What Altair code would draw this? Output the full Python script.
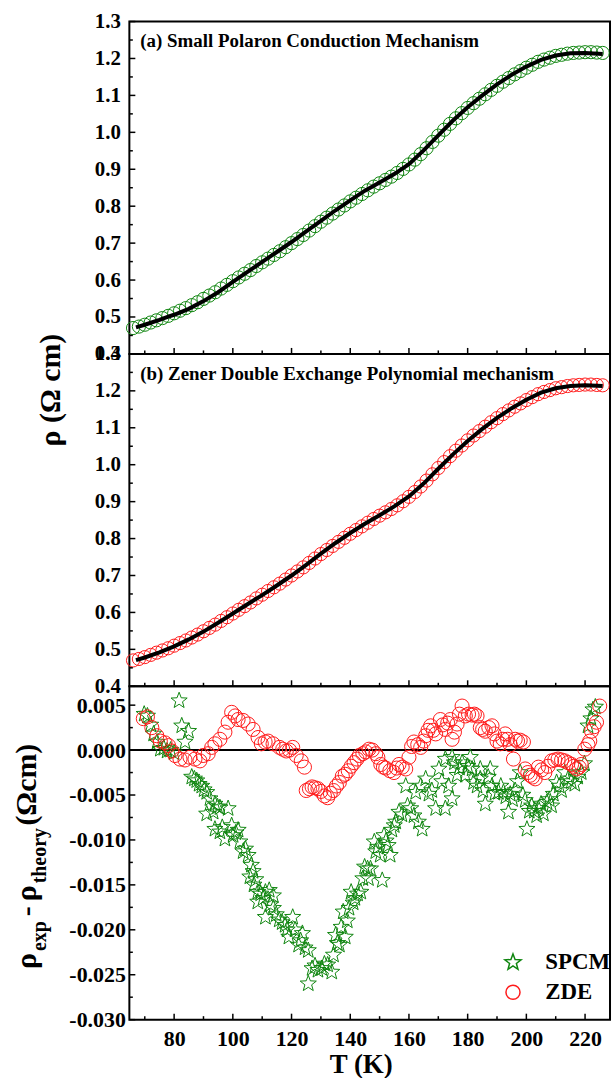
import altair as alt
import pandas as pd

GREEN = "#0f850f"
RED = "#ff1a1a"
FONT = "Liberation Serif"

# ---------------- data ----------------
T_exp = [66, 68, 70, 72, 74, 76, 78, 80, 82, 84, 86, 88, 90, 92, 94, 96, 98, 100,
         102, 104, 106, 108, 110, 112, 114, 116, 118, 120, 122, 124, 126, 128, 130,
         132, 134, 136, 138, 140, 142, 144, 146, 148, 150, 152, 154, 156, 158, 160,
         162, 164, 166, 168, 170, 172, 174, 176, 178, 180, 182, 184, 186, 188, 190,
         192, 194, 196, 198, 200, 202, 204, 206, 208, 210, 212, 214, 216, 218, 220,
         222, 224, 226]
rho_exp = [0.470, 0.474, 0.479, 0.485, 0.491, 0.497, 0.503, 0.510, 0.517, 0.524,
           0.532, 0.540, 0.549, 0.558, 0.567, 0.577, 0.587, 0.597, 0.607, 0.617,
           0.627, 0.638, 0.648, 0.658, 0.668, 0.678, 0.689, 0.700, 0.711, 0.722,
           0.734, 0.746, 0.758, 0.769, 0.780, 0.791, 0.802, 0.813, 0.823, 0.833,
           0.843, 0.853, 0.862, 0.871, 0.880, 0.890, 0.901, 0.913, 0.926, 0.941,
           0.957, 0.974, 0.991, 1.007, 1.023, 1.038, 1.052, 1.066, 1.079, 1.091,
           1.103, 1.115, 1.126, 1.137, 1.147, 1.157, 1.166, 1.175, 1.183, 1.191,
           1.197, 1.202, 1.207, 1.210, 1.213, 1.215, 1.216, 1.217, 1.217, 1.216, 1.215]

T_fit_a = [67, 70, 75, 78, 80, 85, 90, 95, 100, 105, 110, 115, 120, 125, 130, 135,
           140, 145, 150, 155, 160, 165, 170, 175, 180, 185, 190, 195, 200,
           205, 210, 215, 220, 226]
rho_fit_a = [0.472, 0.479, 0.492, 0.501, 0.506, 0.522, 0.543, 0.567, 0.595, 0.622,
             0.649, 0.676, 0.703, 0.732, 0.760, 0.789, 0.816, 0.842, 0.864, 0.887,
             0.914, 0.951, 0.992, 1.032, 1.068, 1.100, 1.130, 1.156, 1.178,
             1.196, 1.208, 1.214, 1.215, 1.212]

T_fit_b = [67, 70, 75, 80, 85, 90, 95, 100, 105, 110, 115, 120, 125, 130, 135, 140,
           145, 150, 155, 160, 165, 170, 175, 180, 185, 190, 195, 200, 205, 210,
           215, 220, 226]
rho_fit_b = [0.471, 0.478, 0.492, 0.508, 0.527, 0.548, 0.572, 0.597, 0.622, 0.647,
             0.673, 0.700, 0.729, 0.759, 0.788, 0.815, 0.840, 0.863, 0.887, 0.914,
             0.949, 0.989, 1.028, 1.064, 1.097, 1.127, 1.153, 1.176, 1.195, 1.207,
             1.213, 1.215, 1.213]

T_res_spcm = [69.8, 70.9, 72.0, 73.0, 74.2, 75.3, 76.5, 77.6, 78.8, 80.0, 81.7, 82.6,
              83.7, 84.9, 86.0, 86.9, 87.7, 88.5, 89.4, 90.2, 91.1, 91.1, 92.2, 93.3,
              93.9, 93.9, 94.8, 95.6, 95.6, 96.4, 97.3, 98.4, 99.6, 100.1, 101.0,
              101.8, 102.4, 103.5, 104.3, 105.2, 105.8, 106.3, 106.9, 107.2, 107.8,
              108.5, 108.5, 109.5, 110.3, 111.1, 111.1, 112.4, 112.8, 113.8, 113.8,
              114.8, 115.8, 116.8, 117.8, 118.5, 119.1, 120.4, 121.2, 122.4, 123.1,
              123.7, 124.6, 125.7, 125.7, 127.0, 128.0, 129.0, 130.3, 131.2, 132.3,
              133.7, 134.3, 135.0, 135.6, 136.3, 136.9, 137.6, 138.3, 139.0, 139.6,
              140.3, 141.0, 141.6, 142.5, 143.6, 144.3, 144.9, 145.9, 146.2, 146.9,
              148.2, 148.7, 149.4, 150.2, 150.9, 151.5, 152.2, 152.9, 153.6, 154.2,
              155.0, 155.5, 156.6, 157.6, 158.9, 159.5, 160.6, 161.7, 162.3, 163.2,
              164.0, 164.5, 165.7, 166.8, 167.8, 169.1, 170.2, 171.2, 172.4, 172.4,
              173.5, 174.7, 174.7, 175.5, 176.4, 177.2, 178.1, 179.2, 180.0, 180.9,
              181.5, 182.0, 183.2, 184.3, 184.3, 185.2, 186.0, 187.0, 187.7, 188.3,
              189.3, 190.5, 191.3, 192.2, 193.0, 193.9, 194.5, 195.3, 196.2, 197.0,
              197.9, 198.8, 199.6, 200.2, 201.0, 201.8, 202.7, 203.5, 204.1, 205.0,
              205.8, 207.0, 207.8, 208.6, 209.2, 210.3, 211.2, 212.0, 213.1, 214.2,
              215.3, 216.5, 217.5, 218.7, 219.8, 221.0, 222.0, 222.7, 223.5]
res_spcm = [0.0040, 0.0038, 0.0028, 0.0018, 0.0009, 0.0001, 0.0002, -0.0001, 0.0000,
            -0.0003, 0.0055, 0.0027, 0.0009, 0.0021, -0.0030, -0.0032, -0.0034,
            -0.0038, -0.0040, -0.0044, -0.0047, -0.0071, -0.0054, -0.0069, -0.0060,
            -0.0088, -0.0063, -0.0064, -0.0091, -0.0086, -0.0099, -0.0065, -0.0084,
            -0.0095, -0.0092, -0.0089, -0.0102, -0.0113, -0.0110, -0.0117, -0.0141,
            -0.0128, -0.0135, -0.0150, -0.0144, -0.0158, -0.0169, -0.0160, -0.0165,
            -0.0158, -0.0186, -0.0156, -0.0172, -0.0162, -0.0176, -0.0183, -0.0189,
            -0.0192, -0.0195, -0.0200, -0.0208, -0.0186, -0.0200, -0.0217, -0.0212,
            -0.0204, -0.0220, -0.0223, -0.0260, -0.0243, -0.0240, -0.0245, -0.0243,
            -0.0238, -0.0239, -0.0247, -0.0228, -0.0206, -0.0215, -0.0217, -0.0197,
            -0.0180, -0.0208, -0.0190, -0.0176, -0.0158, -0.0170, -0.0165, -0.0160,
            -0.0158, -0.0143, -0.0130, -0.0132, -0.0143, -0.0132, -0.0102, -0.0113,
            -0.0108, -0.0117, -0.0145, -0.0095, -0.0101, -0.0106, -0.0117, -0.0089,
            -0.0084, -0.0080, -0.0069, -0.0072, -0.0040, -0.0062, -0.0065, -0.0073,
            -0.0047, -0.0080, -0.0040, -0.0088, -0.0032, -0.0049, -0.0045, -0.0065,
            -0.0021, -0.0035, -0.0065, -0.0010, -0.0040, -0.0054, -0.0008, -0.0014,
            -0.0028, -0.0020, -0.0014, -0.0028, -0.0018, -0.0008, -0.0021, -0.0036,
            -0.0040, -0.0032, -0.0021, -0.0045, -0.0060, -0.0030, -0.0021, -0.0040,
            -0.0048, -0.0047, -0.0040, -0.0047, -0.0052, -0.0069, -0.0049, -0.0055,
            -0.0045, -0.0035, -0.0025, -0.0050, -0.0056, -0.0088, -0.0068, -0.0062,
            -0.0068, -0.0073, -0.0065, -0.0060, -0.0071, -0.0058, -0.0055, -0.0062,
            -0.0049, -0.0036, -0.0040, -0.0045, -0.0025, -0.0032, -0.0035, -0.0038,
            -0.0030, -0.0025, -0.0015, 0.0027, 0.0035, 0.0045, 0.0048]

T_res_zde = [69.5, 70.9, 72.4, 74.1, 75.3, 76.9, 78.1, 79.2, 80.3, 82.0, 83.7, 85.4,
             87.1, 88.8, 89.9, 91.6, 92.8, 93.9, 95.6, 97.3, 98.4, 99.6, 100.8, 101.8,
             103.5, 105.2, 106.9, 108.6, 109.7, 111.0, 112.0, 113.7, 115.9, 117.0,
             118.2, 119.3, 120.4, 121.6, 123.3, 124.4, 125.0, 126.1, 127.0, 128.0,
             129.0, 130.0, 131.2, 132.3, 133.2, 134.3, 135.3, 136.3, 137.3, 138.3,
             139.3, 140.3, 141.3, 142.3, 143.1, 144.3, 145.3, 146.4, 147.5, 148.7,
             149.4, 150.4, 151.3, 152.1, 153.5, 154.9, 155.8, 156.6, 157.7, 158.9,
             160.0, 160.9, 161.7, 163.0, 164.0, 165.0, 165.7, 166.5, 167.4, 168.3,
             169.1, 170.7, 171.5, 172.4, 173.2, 174.1, 174.7, 175.5, 176.4, 177.2,
             178.1, 179.2, 180.3, 181.5, 182.3, 183.2, 184.3, 185.1, 186.0, 187.2,
             188.3, 189.1, 190.0, 191.1, 192.0, 192.8, 193.6, 194.5, 195.6, 196.2,
             197.0, 197.9, 199.0, 199.6, 200.5, 201.3, 202.1, 203.0, 204.1, 205.2,
             206.3, 207.4, 208.6, 209.7, 210.8, 212.0, 213.1, 214.2, 215.4, 216.2,
             217.1, 218.0, 218.7, 219.9, 221.0, 221.6, 222.2, 223.1, 223.9, 225.0]
res_zde = [0.0035, 0.0037, 0.0025, 0.0016, 0.0010, 0.0008, 0.0005, -0.0001, -0.0006,
           -0.0010, -0.0011, -0.0008, -0.0010, -0.0012, -0.0006, -0.0004, 0.0003,
           0.0007, 0.0012, 0.0020, 0.0031, 0.0042, 0.0038, 0.0034, 0.0033, 0.0029,
           0.0023, 0.0014, 0.0007, 0.0009, 0.0010, 0.0007, 0.0003, 0.0001, -0.0001,
           0.0000, 0.0003, -0.0006, -0.0012, -0.0019, -0.0045, -0.0043, -0.0041,
           -0.0042, -0.0043, -0.0046, -0.0051, -0.0053, -0.0048, -0.0045, -0.0040,
           -0.0036, -0.0029, -0.0027, -0.0023, -0.0018, -0.0014, -0.0010, -0.0006,
           -0.0004, -0.0002, 0.0001, 0.0000, -0.0004, -0.0008, -0.0016, -0.0019,
           -0.0020, -0.0023, -0.0025, -0.0020, -0.0016, -0.0019, -0.0021, -0.0008,
           0.0004, 0.0009, 0.0006, 0.0003, 0.0010, 0.0016, 0.0022, 0.0027, 0.0022,
           0.0018, 0.0034, 0.0028, 0.0023, 0.0030, 0.0034, 0.0012, 0.0020, 0.0029,
           0.0040, 0.0049, 0.0038, 0.0040, 0.0039, 0.0040, 0.0038, 0.0025, 0.0023,
           0.0021, 0.0025, 0.0027, 0.0018, 0.0010, 0.0007, 0.0012, 0.0018, 0.0012,
           0.0006, -0.0010, 0.0012, 0.0010, 0.0011, 0.0009, -0.0021, -0.0025,
           -0.0028, -0.0030, -0.0032, -0.0019, -0.0022, -0.0025, -0.0018, -0.0012,
           -0.0011, -0.0010, -0.0011, -0.0012, -0.0014, -0.0016, -0.0018, -0.0021,
           -0.0019, -0.0016, 0.0001, 0.0006, 0.0010, 0.0021, 0.0026, 0.0031, 0.0049]

x_major = [80, 100, 120, 140, 160, 180, 200, 220]
x_minor = [70, 90, 110, 130, 150, 170, 190, 210]
rho_major = [0.4, 0.5, 0.6, 0.7, 0.8, 0.9, 1.0, 1.1, 1.2, 1.3]
rho_minor = [0.45, 0.55, 0.65, 0.75, 0.85, 0.95, 1.05, 1.15, 1.25]
res_major = [-0.030, -0.025, -0.020, -0.015, -0.010, -0.005, 0.000, 0.005]
res_minor = [-0.0275, -0.0225, -0.0175, -0.0125, -0.0075, -0.0025, 0.0025]

label_a = "(a) Small Polaron Conduction Mechanism"
label_b = "(b) Zener Double Exchange Polynomial mechanism"
models = ["SPCM", "ZDE"]

STAR = ("M0,-1L0.247,-0.34L0.951,-0.309L0.399,0.13L0.588,0.809L0,0.42"
        "L-0.588,0.809L-0.399,0.13L-0.951,-0.309L-0.247,-0.34Z")

# ---------------- geometry ----------------
W = 483
H = 334
HC = 335

x_scale = alt.Scale(domain=[64.75, 228.5], nice=False, zero=False)
rho_scale = alt.Scale(domain=[0.4, 1.3], nice=False, zero=False)
res_scale = alt.Scale(domain=[-0.030, 0.0071], nice=False, zero=False)

lab = dict(labelFont=FONT, labelFontWeight="bold",
           labelColor="black", ticks=False, tickSize=0, domain=False,
           grid=False, title=None)
rho_axis = alt.Axis(values=rho_major, format=".1f", labelPadding=9,
                    labelFontSize=21, **lab)
res_axis = alt.Axis(values=res_major, labelPadding=4, labelFontSize=22,
                    labelExpr="replace(format(datum.value, '.3f'), '\u2212', '-')",
                    **lab)
x_axis_c = alt.Axis(values=x_major, format="d", labelPadding=9,
                    labelFontSize=22, **lab)

df_exp = pd.DataFrame({"T": T_exp, "rho": rho_exp})
df_fa = pd.DataFrame({"T": T_fit_a, "rho": rho_fit_a})
df_fb = pd.DataFrame({"T": T_fit_b, "rho": rho_fit_b})
df_res = pd.concat([
    pd.DataFrame({"T": T_res_spcm, "res": res_spcm, "model": models[0]}),
    pd.DataFrame({"T": T_res_zde, "res": res_zde, "model": models[1]}),
])


def ticks_layers(xaxis, yfield, yscale, yaxis, ymaj, ymin, h):
    X = alt.X("T:Q", scale=x_scale, axis=xaxis)
    Y = alt.Y(f"{yfield}:Q", scale=yscale, axis=yaxis)
    out = []
    for vals, ln in ((x_major, 6), (x_minor, 3.5)):
        out.append(alt.Chart(pd.DataFrame({"T": vals})).mark_rule(
            color="black", strokeWidth=1.5).encode(
            x=X, y=alt.value(h), y2=alt.value(h - ln)))
    for vals, ln in ((ymaj, 6), (ymin, 3.5)):
        out.append(alt.Chart(pd.DataFrame({yfield: vals})).mark_rule(
            color="black", strokeWidth=1.5).encode(
            y=Y, x=alt.value(0), x2=alt.value(ln)))
    return out


def rho_panel(color, fit_df, label, extra):
    X = alt.X("T:Q", scale=x_scale, axis=None)
    Y = alt.Y("rho:Q", scale=rho_scale, axis=rho_axis)
    pts = alt.Chart(df_exp).mark_point(
        shape="circle", filled=False, size=175, strokeWidth=1.0,
        color=color, opacity=1).encode(x=X, y=Y)
    line = alt.Chart(fit_df).mark_line(
        color="black", strokeWidth=4).encode(x=X, y=Y)
    txt = alt.Chart(pd.DataFrame({"label": [label]})).mark_text(
        font=FONT, fontWeight="bold", fontSize=19, align="left",
        baseline="middle", color="black").encode(
        x=alt.value(11), y=alt.value(20), text="label:N")
    layers = [pts, line, txt] + ticks_layers(None, "rho", rho_scale, rho_axis,
                                             rho_major, rho_minor, H) + extra
    return alt.layer(*layers).properties(width=W, height=H)


# helper used only to anchor the chart's outer bounds
anchor = alt.Chart(pd.DataFrame({"v": [0]})).mark_rule(
    strokeOpacity=0, strokeWidth=0.1).encode(
    x=alt.value(-129), x2=alt.value(-128), y=alt.value(-18), y2=alt.value(-17))

ylab_rho = alt.Chart(pd.DataFrame({"t": ["\u03c1 (\u03a9 cm)"]})).mark_text(
    font=FONT, fontWeight="bold", fontSize=30, angle=270, align="left",
    baseline="alphabetic", color="black").encode(
    x=alt.value(-70), y=alt.value(93), text="t:N")

panel_a = rho_panel(GREEN, df_fa, label_a, [anchor])
panel_b = rho_panel(RED, df_fb, label_b, [ylab_rho])

# ---------------- residual panel ----------------
Xc = alt.X("T:Q", scale=x_scale, axis=x_axis_c)
Yc = alt.Y("res:Q", scale=res_scale, axis=res_axis)
legend = alt.Legend(orient="none", legendX=374, legendY=934, title=None,
                    labelFont=FONT, labelFontSize=23, labelFontWeight="bold",
                    labelColor="black", symbolSize=200, symbolStrokeWidth=1.5,
                    rowPadding=6, labelOffset=21, padding=0)
res_pts = alt.Chart(df_res).mark_point(
    filled=False, strokeWidth=1.0, opacity=1).encode(
    x=Xc, y=Yc,
    shape=alt.Shape("model:N", scale=alt.Scale(domain=models, range=[STAR, "circle"]),
                    legend=legend),
    color=alt.Color("model:N", scale=alt.Scale(domain=models, range=[GREEN, RED]),
                    legend=legend),
    size=alt.Size("model:N", scale=alt.Scale(domain=models, range=[290, 200]),
                  legend=None),
    order=alt.Order("model:N", sort="ascending"),
)
zero = alt.Chart(pd.DataFrame({"res": [0.0]})).mark_rule(
    color="black", strokeWidth=2).encode(y=Yc)


def piece(text, start, xb, size, align="left"):
    return alt.Chart(pd.DataFrame({"t": [text]})).mark_text(
        font=FONT, fontWeight="bold", fontSize=size, angle=270, align=align,
        baseline="alphabetic", color="black").encode(
        x=alt.value(xb), y=alt.value(start), text="t:N")


ytitle_c = [
    piece("\u03c1", 284, -94, 30),
    piece("exp", 266, -84, 20),
    piece("-", 226, -94, 30, "center"),
    piece("\u03c1", 216, -94, 30),
    piece("theory", 198, -84, 20),
    piece("(\u03a9cm)", 140, -94, 30),
]
xtitle = alt.Chart(pd.DataFrame({"t": ["T (K)"]})).mark_text(
    font=FONT, fontWeight="bold", fontSize=27, align="center",
    baseline="alphabetic", color="black").encode(
    x=alt.value(233), y=alt.value(389), text="t:N")

panel_c = alt.layer(
    zero, res_pts,
    *ticks_layers(x_axis_c, "res", res_scale, res_axis, res_major, res_minor, HC),
    *ytitle_c, xtitle,
).properties(width=W, height=HC)

chart = alt.VConcatChart(
    vconcat=[panel_a, panel_b, panel_c], spacing=0, bounds="flush"
).properties(padding=0).configure_view(stroke="black", strokeWidth=2)

chart.save("out.html", embed_options={"renderer": "svg", "actions": False})
